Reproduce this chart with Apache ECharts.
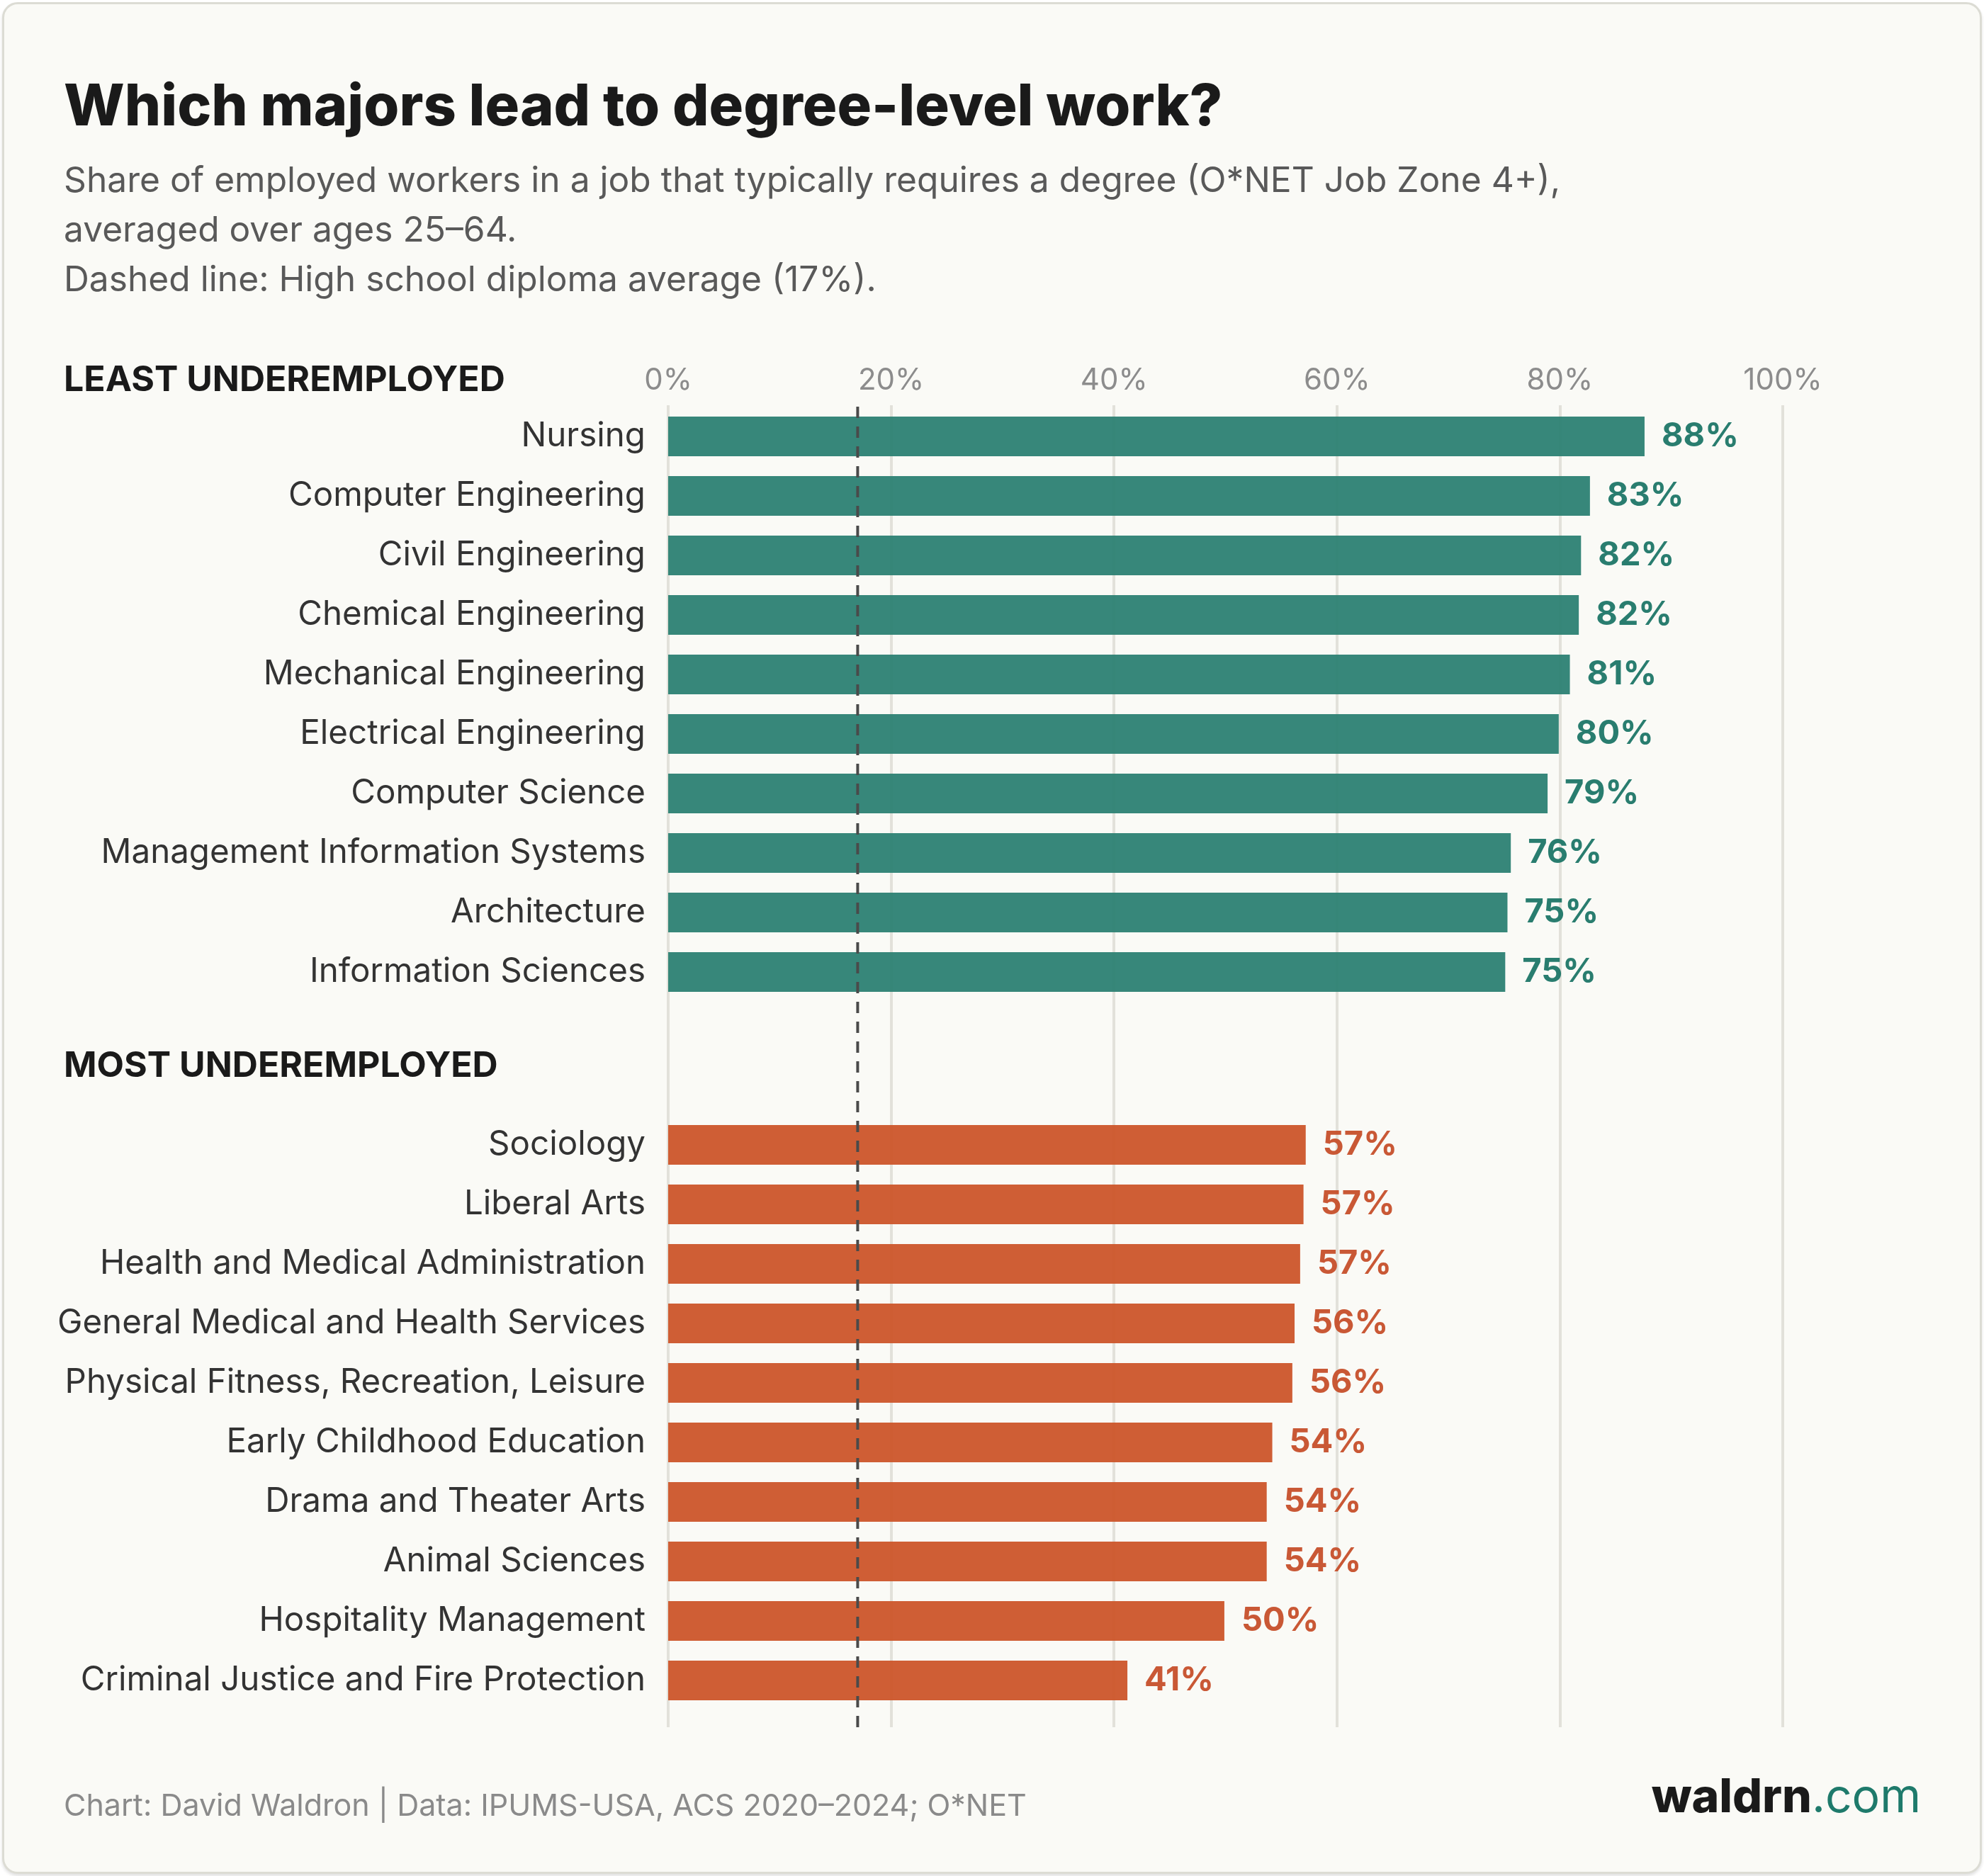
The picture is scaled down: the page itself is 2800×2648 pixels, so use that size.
<!DOCTYPE html>
<html>
<head>
<meta charset="utf-8">
<title>Which majors lead to degree-level work?</title>
<script src="https://cdn.jsdelivr.net/npm/echarts@6/dist/echarts.min.js"></script>
<style>
  html, body { margin: 0; padding: 0; background: #ffffff; }
  #card {
    position: absolute; left: 3px; top: 3px; width: 2788px; height: 2636px;
    border: 3px solid #dcdcd4; border-radius: 22px; background: #fafaf6;
    box-shadow: 0 3px 4px rgba(0,0,0,0.12);
  }
  #chart { position: absolute; left: 0; top: 0; width: 2800px; height: 2648px; }
</style>
</head>
<body>
<div id="card"></div>
<div id="chart"></div>
<script>
// least underemployed majors (top group)
var topMajors = ['Nursing', 'Computer Engineering', 'Civil Engineering', 'Chemical Engineering',
  'Mechanical Engineering', 'Electrical Engineering', 'Computer Science',
  'Management Information Systems', 'Architecture', 'Information Sciences'];
var topShare = [87.6, 82.7, 81.9, 81.7, 80.9, 79.9, 78.9, 75.6, 75.3, 75.1];

// most underemployed majors (bottom group)
var bottomMajors = ['Sociology', 'Liberal Arts', 'Health and Medical Administration',
  'General Medical and Health Services', 'Physical Fitness, Recreation, Leisure',
  'Early Childhood Education', 'Drama and Theater Arts', 'Animal Sciences',
  'Hospitality Management', 'Criminal Justice and Fire Protection'];
var bottomShare = [57.2, 57.0, 56.7, 56.2, 56.0, 54.2, 53.7, 53.7, 49.9, 41.2];

var hsAverage = 17; // high school diploma average
var xTicks = [0, 20, 40, 60, 80, 100];

var font = 'Inter';
var teal = '#2a7f72', tealText = '#1c7566';
var orange = '#cc5428', orangeText = '#c64e28';

var plotLeft = 943, plotWidth = 1573;

function barSeries(name, idx, data, color, textColor) {
  return {
    name: name,
    type: 'bar',
    xAxisIndex: idx,
    yAxisIndex: idx,
    barWidth: 56,
    data: data,
    itemStyle: { color: color, opacity: 0.94 },
    label: {
      show: true,
      position: 'right',
      distance: 24,
      fontFamily: font,
      fontWeight: 'bold',
      fontSize: 47,
      color: textColor,
      formatter: function (p) { return Math.round(p.value) + '%'; }
    },
    silent: true,
    z: 3
  };
}

function catAxis(idx, data) {
  return {
    gridIndex: idx,
    type: 'category',
    inverse: true,
    data: data,
    axisLine: { show: false },
    axisTick: { show: false },
    axisLabel: { fontFamily: font, fontSize: 47.5, color: '#333333', margin: 32 }
  };
}

function hiddenX(idx) {
  return { gridIndex: idx, type: 'value', min: 0, max: 100, show: false };
}

var option = {
  animation: false,
  backgroundColor: 'transparent',
  grid: [
    { left: plotLeft, width: plotWidth, top: 572, height: 1866 },
    { left: plotLeft, width: plotWidth, top: 574, height: 840 },
    { left: plotLeft, width: plotWidth, top: 1574, height: 840 }
  ],
  xAxis: [
    {
      gridIndex: 0,
      type: 'value',
      position: 'top',
      min: xTicks[0],
      max: xTicks[xTicks.length - 1],
      interval: xTicks[1] - xTicks[0],
      axisLine: { show: false },
      axisTick: { show: false },
      axisLabel: { formatter: '{value}%', fontFamily: font, fontSize: 42, color: '#8c8c8c', margin: 14 },
      splitLine: { show: true, lineStyle: { color: '#e2e1da', width: 4 } }
    },
    hiddenX(1),
    hiddenX(2)
  ],
  yAxis: [
    { gridIndex: 0, type: 'value', min: 0, max: 1, show: false },
    catAxis(1, topMajors),
    catAxis(2, bottomMajors)
  ],
  series: [
    barSeries('Least underemployed', 1, topShare, teal, tealText),
    barSeries('Most underemployed', 2, bottomShare, orange, orangeText),
    {
      name: 'High school diploma average',
      type: 'line',
      xAxisIndex: 0,
      yAxisIndex: 0,
      data: [[hsAverage, 0], [hsAverage, 1]],
      symbol: 'none',
      lineStyle: { color: '#4a4a4a', width: 4, type: [16, 12] },
      silent: true,
      z: 10
    }
  ],
  graphic: [
    { type: 'text', left: 90, top: 112, style: { text: 'Which majors lead to degree-level work?', font: '800 81px Inter', fill: '#1a1a1a' } },
    { type: 'text', left: 90, top: 231, style: { text: 'Share of employed workers in a job that typically requires a degree (O*NET Job Zone 4+),', font: '49.7px Inter', fill: '#595959' } },
    { type: 'text', left: 90, top: 301, style: { text: 'averaged over ages 25\u201364.', font: '49.7px Inter', fill: '#595959' } },
    { type: 'text', left: 90, top: 371, style: { text: 'Dashed line: High school diploma average (17%).', font: '49.7px Inter', fill: '#595959' } },
    { type: 'text', left: 90, top: 512, style: { text: 'LEAST UNDEREMPLOYED', font: 'bold 50px Inter', fill: '#1a1a1a' } },
    { type: 'text', left: 90, top: 1480, style: { text: 'MOST UNDEREMPLOYED', font: 'bold 50px Inter', fill: '#1a1a1a' } },
    { type: 'text', left: 90, top: 2529, style: { text: 'Chart: David Waldron | Data: IPUMS-USA, ACS 2020\u20132024; O*NET', font: '43px Inter', fill: '#8a8a8a' } },
    {
      type: 'text', right: 89, top: 2505,
      style: {
        text: '{a|waldrn}{b|.com}',
        rich: {
          a: { fontFamily: font, fontWeight: 800, fontSize: 66, fill: '#1a1a1a', color: '#1a1a1a' },
          b: { fontFamily: font, fontSize: 66, fill: '#1e7a6b', color: '#1e7a6b' }
        }
      }
    }
  ]
};

var myChart = echarts.init(document.getElementById('chart'), null, { renderer: 'canvas' });
myChart.setOption(option);
</script>
</body>
</html>
